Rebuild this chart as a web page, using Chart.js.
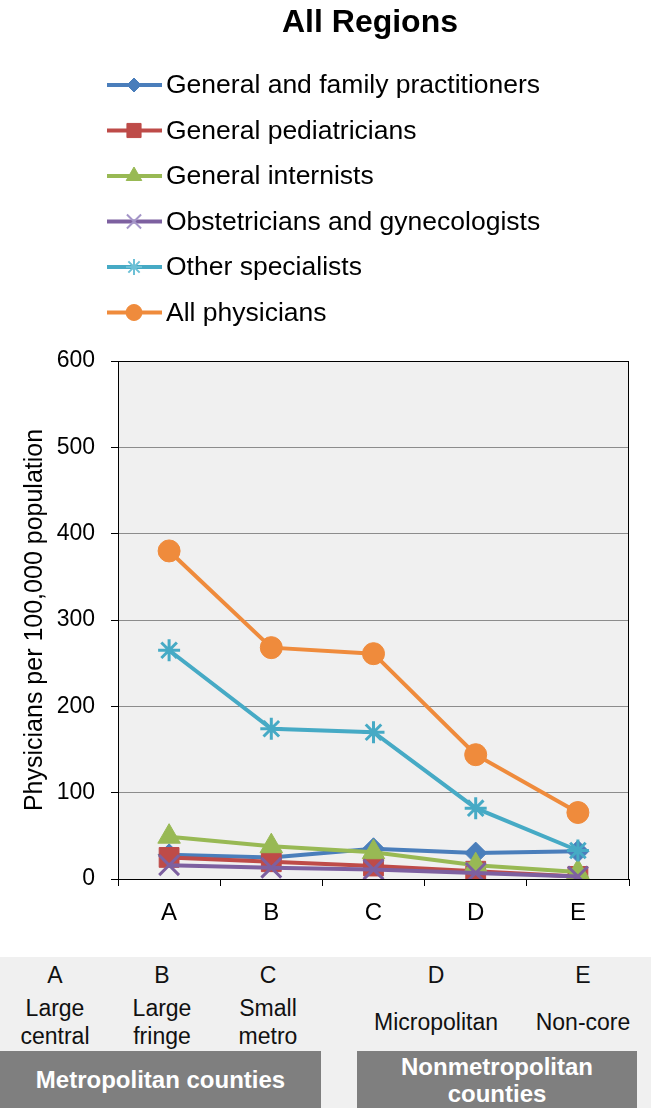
<!DOCTYPE html>
<html lang="en">
<head>
  <meta charset="UTF-8" />
  <title>All Regions</title>
  <script src="https://cdn.jsdelivr.net/npm/chart.js"></script>
  <style>
    body {
      margin: 0;
      width: 651px;
      height: 1108px;
      position: relative;
      background: #fff;
      font-family: Arial, "Liberation Sans", sans-serif;
      overflow: hidden;
    }
    #chart {
      position: absolute;
      left: 0;
      top: 0;
    }
    .table {
      position: absolute;
      left: 0;
      top: 957px;
      width: 651px;
      height: 151px;
      background: #f0f0f0;
      font-size: 23px;
      color: #111;
    }
    .cell {
      position: absolute;
      text-align: center;
      line-height: 28px;
      transform: translateX(-50%);
      white-space: nowrap;
    }
    .group {
      position: absolute;
      top: 94px;
      height: 57px;
      background: #7f7f7f;
      color: #fff;
      font-weight: bold;
      font-size: 24px;
      display: flex;
      align-items: center;
      justify-content: center;
      text-align: center;
      line-height: 27px;
    }
  </style>
</head>
<body>
  <canvas id="chart" width="651" height="950"></canvas>

  <div class="table">
    <div class="cell" style="left:55px; top:4px;">A</div>
    <div class="cell" style="left:162px; top:4px;">B</div>
    <div class="cell" style="left:268px; top:4px;">C</div>
    <div class="cell" style="left:436px; top:4px;">D</div>
    <div class="cell" style="left:583px; top:4px;">E</div>

    <div class="cell" style="left:55px; top:37px;">Large<br>central</div>
    <div class="cell" style="left:162px; top:37px;">Large<br>fringe</div>
    <div class="cell" style="left:268px; top:37px;">Small<br>metro</div>
    <div class="cell" style="left:436px; top:51px;">Micropolitan</div>
    <div class="cell" style="left:583px; top:51px;">Non-core</div>

    <div class="group" style="left:0; width:321px;">Metropolitan counties</div>
    <div class="group" style="left:357px; width:280px;">Nonmetropolitan<br>counties</div>
  </div>

  <script>
    const labels = ['A', 'B', 'C', 'D', 'E'];
    const seriesNames = [
      'General and family practitioners',
      'General pediatricians',
      'General internists',
      'Obstetricians and gynecologists',
      'Other specialists',
      'All physicians'
    ];
    const generalFamily = [28, 25, 35, 30, 32];
    const pediatricians = [25, 20, 15, 9, 3];
    const internists = [49, 38, 31, 16, 8];
    const obgyn = [16, 13, 11, 7, 3];
    const otherSpecialists = [265, 174, 170, 82, 33];
    const allPhysicians = [380, 268, 261, 144, 77];
    const yTicks = [0, 100, 200, 300, 400, 500, 600];

    const colors = ['#4a7ebb', '#be4b48', '#98b954', '#7d60a0', '#46aac5', '#ef8b3c'];
    const legendColors = ['#4a7ebb', '#be4b48', '#98b954', '#a495c8', '#6cc0d6', '#ef8b3c'];
    const styles = ['rectRot', 'rect', 'triangle', 'crossRot', 'star', 'circle'];
    const radii = [11, 14, 13, 14, 11, 11];
    const legendRadii = [7, 10, 9, 10, 8, 8];
    const values = [generalFamily, pediatricians, internists, obgyn, otherSpecialists, allPhysicians];

    const datasets = values.map((v, i) => {
      const open = styles[i] === 'crossRot' || styles[i] === 'star';
      return {
        label: seriesNames[i],
        data: v,
        borderColor: colors[i],
        backgroundColor: colors[i],
        borderWidth: 4,
        pointStyle: styles[i],
        pointRadius: radii[i],
        pointBorderWidth: open ? 3 : 1,
        pointBorderColor: colors[i],
        pointBackgroundColor: colors[i],
        tension: 0,
        order: 6 - i
      };
    });

    // plot background, frame, title and legend
    const decor = {
      id: 'decor',
      beforeDraw(chart) {
        const { ctx, chartArea: a } = chart;
        ctx.save();
        ctx.fillStyle = '#f0f0f0';
        ctx.fillRect(a.left, a.top, a.right - a.left, a.bottom - a.top);
        ctx.restore();
      },
      beforeDatasetsDraw(chart) {
        const { ctx, chartArea: a } = chart;
        ctx.save();
        ctx.strokeStyle = '#000';
        ctx.lineWidth = 1;
        ctx.strokeRect(a.left + 0.5, a.top + 0.5, a.right - a.left - 1, a.bottom - a.top);
        ctx.restore();
      },
      afterDraw(chart) {
        const ctx = chart.ctx;
        ctx.save();
        ctx.fillStyle = '#000';
        ctx.font = 'bold 32px Arial, "Liberation Sans"';
        ctx.textAlign = 'center';
        ctx.textBaseline = 'middle';
        ctx.fillText('All Regions', 370, 23);

        ctx.font = '26.5px Arial, "Liberation Sans"';
        ctx.textAlign = 'left';
        seriesNames.forEach((name, i) => {
          const y = 85 + i * 45.5;
          ctx.strokeStyle = colors[i];
          ctx.lineWidth = 4;
          ctx.beginPath();
          ctx.moveTo(107, y);
          ctx.lineTo(162, y);
          ctx.stroke();
          const open = styles[i] === 'crossRot' || styles[i] === 'star';
          ctx.fillStyle = legendColors[i];
          ctx.strokeStyle = legendColors[i];
          ctx.lineWidth = open ? 2 : 1;
          Chart.helpers.drawPoint(ctx, {
            pointStyle: styles[i],
            radius: legendRadii[i],
            rotation: 0,
            borderWidth: open ? 2 : 1
          }, 134, y);
          ctx.fillStyle = '#000';
          ctx.fillText(name, 166, y + 1);
        });
        ctx.restore();
      }
    };

    new Chart(document.getElementById('chart'), {
      type: 'line',
      data: { labels, datasets },
      plugins: [decor],
      options: {
        responsive: false,
        animation: false,
        layout: { padding: { top: 361, left: 0, right: 22, bottom: 0 } },
        plugins: {
          legend: { display: false },
          title: { display: false },
          tooltip: { enabled: false }
        },
        scales: {
          x: {
            offset: true,
            afterFit: s => { s.height = 71; },
            grid: {
              offset: true,
              drawOnChartArea: false,
              drawTicks: true,
              tickLength: 7,
              tickColor: '#000'
            },
            border: { color: '#000', width: 1 },
            ticks: {
              color: '#000',
              padding: 13,
              font: { size: 24, family: 'Arial, "Liberation Sans"' }
            }
          },
          y: {
            min: 0,
            max: 600,
            afterFit: s => { s.width = 118; },
            afterBuildTicks: s => { s.ticks = yTicks.map(v => ({ value: v })); },
            grid: {
              color: '#8c8c8c',
              lineWidth: 1,
              tickLength: 7,
              tickColor: '#000'
            },
            border: { color: '#000', width: 1 },
            ticks: {
              color: '#000',
              padding: 16,
              font: { size: 23, family: 'Arial, "Liberation Sans"' }
            },
            title: {
              display: true,
              text: 'Physicians per 100,000 population',
              color: '#000',
              padding: { top: 20, bottom: 0 },
              font: { size: 25, family: 'Arial, "Liberation Sans"' }
            }
          }
        }
      }
    });
  </script>
</body>
</html>
